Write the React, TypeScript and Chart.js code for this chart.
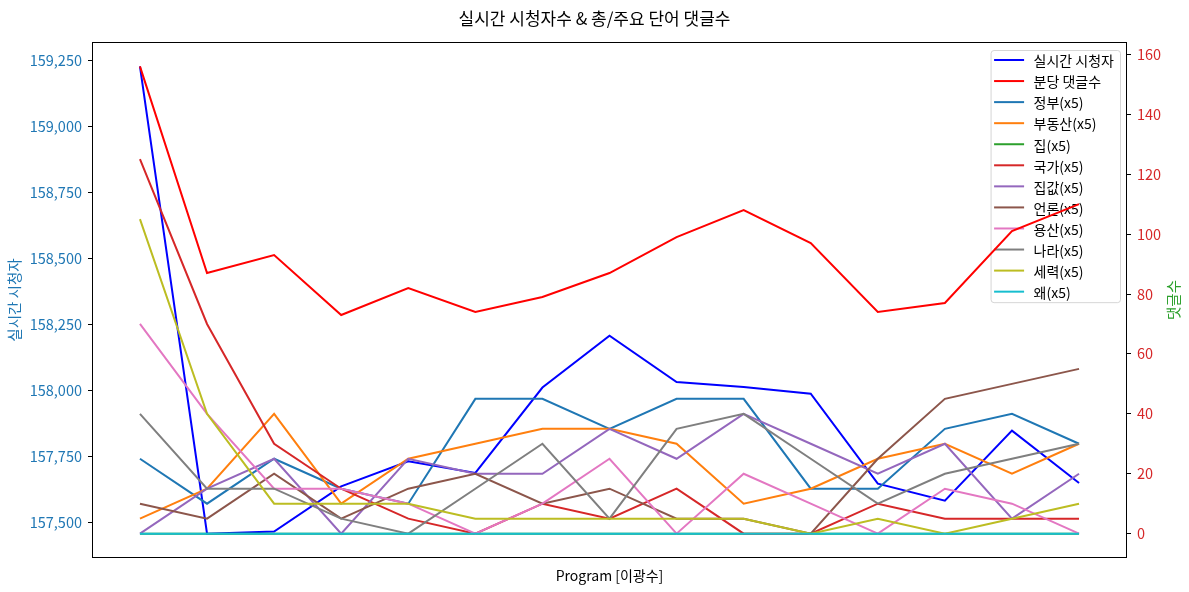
import React, { useEffect, useRef } from "react";
import { Chart, registerables } from "chart.js";

Chart.register(...registerables);

const FONT = "'Noto Sans CJK KR', 'Noto Sans', sans-serif";

const programSlots = [0, 1, 2, 3, 4, 5, 6, 7, 8, 9, 10, 11, 12, 13, 14];

const viewers = [159227, 157458, 157466, 157637, 157732, 157688, 158011, 158207, 158032, 158013, 157988, 157647, 157583, 157848, 157650];
const commentsPerMin = [156, 87, 93, 73, 82, 74, 79, 87, 99, 108, 97, 74, 77, 101, 110];

const kwGovernment = [25, 10, 25, 15, 10, 45, 45, 35, 45, 45, 15, 15, 35, 40, 30];
const kwRealEstate = [5, 15, 40, 10, 25, 30, 35, 35, 30, 10, 15, 25, 30, 20, 30];
const kwHouse = [0, 0, 0, 0, 0, 0, 0, 0, 0, 0, 0, 0, 0, 0, 0];
const kwNation = [125, 70, 30, 15, 5, 0, 10, 5, 15, 0, 0, 10, 5, 5, 5];
const kwHousePrice = [0, 15, 25, 0, 25, 20, 20, 35, 25, 40, 30, 20, 30, 5, 20];
const kwPress = [10, 5, 20, 5, 15, 20, 10, 15, 5, 5, 0, 25, 45, 50, 55];
const kwYongsan = [70, 40, 15, 15, 10, 0, 10, 25, 0, 20, 10, 0, 15, 10, 0];
const kwCountry = [40, 15, 15, 5, 0, 15, 30, 5, 35, 40, 25, 10, 20, 25, 30];
const kwForce = [105, 40, 10, 10, 10, 5, 5, 5, 5, 5, 0, 5, 0, 5, 10];
const kwWhy = [0, 0, 0, 0, 0, 0, 0, 0, 0, 0, 0, 0, 0, 0, 0];

const leftTicks = [157500, 157750, 158000, 158250, 158500, 158750, 159000, 159250];
const rightTicks = [0, 20, 40, 60, 80, 100, 120, 140, 160];

const keywordSeries = [
  { label: "정부(x5)", data: kwGovernment, color: "#1f77b4" },
  { label: "부동산(x5)", data: kwRealEstate, color: "#ff7f0e" },
  { label: "집(x5)", data: kwHouse, color: "#2ca02c" },
  { label: "국가(x5)", data: kwNation, color: "#d62728" },
  { label: "집값(x5)", data: kwHousePrice, color: "#9467bd" },
  { label: "언론(x5)", data: kwPress, color: "#8c564b" },
  { label: "용산(x5)", data: kwYongsan, color: "#e377c2" },
  { label: "나라(x5)", data: kwCountry, color: "#7f7f7f" },
  { label: "세력(x5)", data: kwForce, color: "#bcbd22" },
  { label: "왜(x5)", data: kwWhy, color: "#17becf" },
];

function padRange(values: number[]) {
  const lo = Math.min(...values);
  const hi = Math.max(...values);
  const m = (hi - lo) * 0.05;
  return { min: lo - m, max: hi + m };
}

const toPoints = (arr: number[]) => arr.map((v, i) => ({ x: programSlots[i], y: v }));

const innerLegend = {
  id: "innerLegend",
  beforeDatasetsDraw(chart: any) {
    const { ctx, chartArea } = chart;
    const items = chart.data.datasets.map((d: any) => ({ label: d.label, color: d.borderColor }));
    ctx.save();
    ctx.font = `14px ${FONT}`;
    let maxW = 0;
    items.forEach((it: any) => {
      maxW = Math.max(maxW, ctx.measureText(it.label).width);
    });
    const rowH = 21.06;
    const boxW = 3.5 + 30 + 9.5 + maxW + 6;
    const boxH = 10 + (items.length - 1) * rowH + 10.5;
    const x0 = chartArea.right - 6 - boxW;
    const y0 = chartArea.top + 7;
    ctx.beginPath();
    if (ctx.roundRect) ctx.roundRect(x0 + 0.5, y0 + 0.5, boxW, boxH, 3);
    else ctx.rect(x0 + 0.5, y0 + 0.5, boxW, boxH);
    ctx.fillStyle = "rgba(255,255,255,0.8)";
    ctx.fill();
    ctx.strokeStyle = "rgba(204,204,204,0.8)";
    ctx.lineWidth = 1;
    ctx.stroke();
    items.forEach((it: any, i: number) => {
      const cy = y0 + 10 + i * rowH;
      ctx.beginPath();
      ctx.moveTo(x0 + 3.5, cy);
      ctx.lineTo(x0 + 33.5, cy);
      ctx.strokeStyle = it.color;
      ctx.lineWidth = 2;
      ctx.stroke();
      ctx.fillStyle = "#000";
      ctx.textBaseline = "middle";
      ctx.textAlign = "left";
      ctx.fillText(it.label, x0 + 43, cy + 1);
    });
    ctx.restore();
  },
  afterDraw(chart: any) {
    const { ctx, chartArea } = chart;
    ctx.save();
    ctx.strokeStyle = "#000";
    ctx.lineWidth = 1;
    ctx.strokeRect(
      Math.round(chartArea.left) - 0.5,
      Math.round(chartArea.top) - 0.5,
      Math.round(chartArea.right - chartArea.left) + 1,
      Math.round(chartArea.bottom - chartArea.top) + 1
    );
    // right axis title (reads bottom to top)
    ctx.translate(1173, (chartArea.top + chartArea.bottom) / 2);
    ctx.rotate(-Math.PI / 2);
    ctx.font = `14.5px ${FONT}`;
    ctx.fillStyle = "#2ca02c";
    ctx.textAlign = "center";
    ctx.textBaseline = "middle";
    ctx.fillText("댓글수", 0, 0);
    ctx.restore();
  },
};

export default function App() {
  const ref = useRef<HTMLCanvasElement | null>(null);

  useEffect(() => {
    document.body.style.margin = "0";
    const canvas = ref.current;
    if (!canvas) return;
    const leftRange = padRange(viewers);
    const allRight = [commentsPerMin, ...keywordSeries.map((k) => k.data)].flat();
    const rightRange = padRange(allRight);
    const n = keywordSeries.length;

    const datasets: any[] = [
      {
        label: "실시간 시청자",
        data: toPoints(viewers),
        borderColor: "#0000ff",
        backgroundColor: "#0000ff",
        yAxisID: "yLeft",
        order: 100,
      },
      {
        label: "분당 댓글수",
        data: toPoints(commentsPerMin),
        borderColor: "#ff0000",
        backgroundColor: "#ff0000",
        yAxisID: "yRight",
        order: 50,
      },
      ...keywordSeries.map((k, i) => ({
        label: k.label,
        data: toPoints(k.data),
        borderColor: k.color,
        backgroundColor: k.color,
        yAxisID: "yRight",
        order: n - i,
      })),
    ].map((d) => ({ ...d, borderWidth: 2, pointRadius: 0, pointHoverRadius: 0, tension: 0, fill: false }));

    const chart = new Chart(canvas, {
      type: "line",
      data: { datasets },
      plugins: [innerLegend],
      options: {
        responsive: false,
        animation: false,
        devicePixelRatio: 1,
        layout: { padding: 0 },
        plugins: {
          legend: { display: false },
          tooltip: { enabled: false },
          title: {
            display: true,
            text: "실시간 시청자수 & 총/주요 단어 댓글수",
            color: "#000",
            font: { family: FONT, size: 17, weight: "normal", lineHeight: 1.2 },
            padding: { top: 8.3, bottom: 14.3 },
          },
        },
        scales: {
          x: {
            type: "linear",
            min: programSlots[0] - 0.7,
            max: programSlots[programSlots.length - 1] + 0.7,
            ticks: { display: false },
            grid: { display: false },
            border: { display: false },
            title: {
              display: true,
              text: "Program [이광수]",
              color: "#000",
              font: { family: FONT, size: 14 },
              padding: { top: 0, bottom: 8 },
            },
            afterFit: (s: any) => {
              s.height = 35;
            },
          },
          yLeft: {
            type: "linear",
            position: "left",
            min: leftRange.min,
            max: leftRange.max,
            afterBuildTicks: (s: any) => {
              s.ticks = leftTicks.map((v) => ({ value: v }));
            },
            ticks: {
              color: "#1f77b4",
              font: { family: FONT, size: 14.5 },
              padding: 6,
              callback: (v: any) => Number(v).toLocaleString("en-US"),
            },
            grid: { display: true, drawOnChartArea: false, drawTicks: true, tickLength: 5, color: "#000" },
            border: { display: false },
            title: {
              display: true,
              text: "실시간 시청자",
              color: "#1f77b4",
              font: { family: FONT, size: 14.5 },
              padding: { top: 6, bottom: 0 },
            },
            afterFit: (s: any) => {
              s.width = 93;
            },
          },
          yRight: {
            type: "linear",
            position: "right",
            min: rightRange.min,
            max: rightRange.max,
            afterBuildTicks: (s: any) => {
              s.ticks = rightTicks.map((v) => ({ value: v }));
            },
            ticks: {
              color: "#d62728",
              font: { family: FONT, size: 14.5 },
              padding: 6,
            },
            grid: { display: true, drawOnChartArea: false, drawTicks: true, tickLength: 5, color: "#000" },
            border: { display: false },
            afterFit: (s: any) => {
              s.width = 63;
            },
          },
        },
      },
    });
    return () => chart.destroy();
  }, []);

  return (
    <div style={{ width: 1189, height: 592, background: "#fff" }}>
      <canvas ref={ref} width={1189} height={592} style={{ display: "block" }} />
    </div>
  );
}
